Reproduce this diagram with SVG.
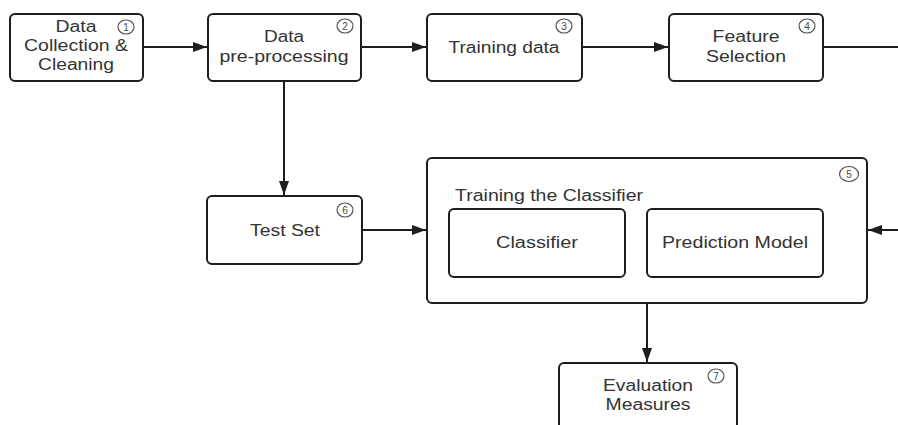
<svg xmlns="http://www.w3.org/2000/svg" width="898" height="425" viewBox="0 0 898 425">
<style>
.box{fill:#fff;stroke:#1e1e1e;stroke-width:2}
.t{font-family:"Liberation Sans",Arial,sans-serif;font-size:16px;fill:#333;text-anchor:middle}
.tl{font-family:"Liberation Sans",Arial,sans-serif;font-size:16px;fill:#333}
.num{fill:#fff;stroke:#555;stroke-width:1.2}
.n{font-family:"Liberation Sans",Arial,sans-serif;font-size:10px;fill:#444;text-anchor:middle}
.c{fill:none;stroke:#1e1e1e;stroke-width:2}
</style>
<defs>
<marker id="ah" viewBox="0 0 14 10" refX="14" refY="5" markerWidth="14" markerHeight="10" markerUnits="userSpaceOnUse" orient="auto">
<path d="M0,0 L14,5 L0,10 Z" fill="#1e1e1e"/>
</marker>
</defs>
<rect width="898" height="425" fill="#fff"/>
<g id="connectors">
<line class="c" x1="143" y1="47" x2="207" y2="47" marker-end="url(#ah)"/>
<line class="c" x1="361" y1="47" x2="426" y2="47" marker-end="url(#ah)"/>
<line class="c" x1="582" y1="47" x2="668" y2="47" marker-end="url(#ah)"/>
<line class="c" x1="823" y1="47" x2="898" y2="47"/>
<line class="c" x1="898" y1="230" x2="868" y2="230" marker-end="url(#ah)"/>
<line class="c" x1="284" y1="81" x2="284" y2="195" marker-end="url(#ah)"/>
<line class="c" x1="362" y1="230" x2="426" y2="230" marker-end="url(#ah)"/>
<line class="c" x1="647" y1="303" x2="647" y2="362" marker-end="url(#ah)"/>
</g>
<g id="n1">
<rect class="box" x="10" y="14" width="133" height="67" rx="5"/>
<text class="t" x="76" y="32" textLength="41" lengthAdjust="spacingAndGlyphs">Data</text>
<text class="t" x="76" y="51" textLength="104" lengthAdjust="spacingAndGlyphs">Collection &amp;</text>
<text class="t" x="76" y="70" textLength="76" lengthAdjust="spacingAndGlyphs">Cleaning</text>
<ellipse class="num" cx="126" cy="27" rx="8" ry="7"/>
<text class="n" x="126" y="30.5">1</text>
</g>
<g id="n2">
<rect class="box" x="208" y="14" width="153" height="67" rx="5"/>
<text class="t" x="284" y="42" textLength="40" lengthAdjust="spacingAndGlyphs">Data</text>
<text class="t" x="284" y="62" textLength="129" lengthAdjust="spacingAndGlyphs">pre-processing</text>
<ellipse class="num" cx="345" cy="26" rx="8" ry="7"/>
<text class="n" x="345" y="29.5">2</text>
</g>
<g id="n3">
<rect class="box" x="427" y="14" width="155" height="67" rx="5"/>
<text class="t" x="504" y="53" textLength="111" lengthAdjust="spacingAndGlyphs">Training data</text>
<ellipse class="num" cx="564" cy="26" rx="8" ry="7"/>
<text class="n" x="564" y="29.5">3</text>
</g>
<g id="n4">
<rect class="box" x="669" y="14" width="154" height="67" rx="5"/>
<text class="t" x="746" y="42" textLength="67" lengthAdjust="spacingAndGlyphs">Feature</text>
<text class="t" x="746" y="62" textLength="80" lengthAdjust="spacingAndGlyphs">Selection</text>
<ellipse class="num" cx="807" cy="26" rx="8" ry="7"/>
<text class="n" x="807" y="29.5">4</text>
</g>
<g id="n6">
<rect class="box" x="207" y="196" width="155" height="68" rx="5"/>
<text class="t" x="285" y="236" textLength="70" lengthAdjust="spacingAndGlyphs">Test Set</text>
<ellipse class="num" cx="345" cy="210" rx="8" ry="7"/>
<text class="n" x="345" y="213.5">6</text>
</g>
<g id="n5">
<rect class="box" x="427" y="158" width="440" height="145" rx="5"/>
<text class="tl" x="455" y="201" textLength="188" lengthAdjust="spacingAndGlyphs">Training the Classifier</text>
<ellipse class="num" cx="849" cy="174" rx="9.5" ry="7.5"/>
<text class="n" x="849" y="177.5">5</text>
</g>
<g id="classifier">
<rect class="box" x="449" y="209" width="176" height="68" rx="5"/>
<text class="t" x="537" y="248" textLength="82" lengthAdjust="spacingAndGlyphs">Classifier</text>
</g>
<g id="prediction">
<rect class="box" x="647" y="209" width="176" height="68" rx="5"/>
<text class="t" x="735" y="248" textLength="146" lengthAdjust="spacingAndGlyphs">Prediction Model</text>
</g>
<g id="n7">
<rect class="box" x="559" y="363" width="178" height="80" rx="5"/>
<text class="t" x="648" y="391" textLength="90" lengthAdjust="spacingAndGlyphs">Evaluation</text>
<text class="t" x="648" y="410" textLength="85" lengthAdjust="spacingAndGlyphs">Measures</text>
<ellipse class="num" cx="716" cy="376" rx="8" ry="7"/>
<text class="n" x="716" y="379.5">7</text>
</g>
</svg>
